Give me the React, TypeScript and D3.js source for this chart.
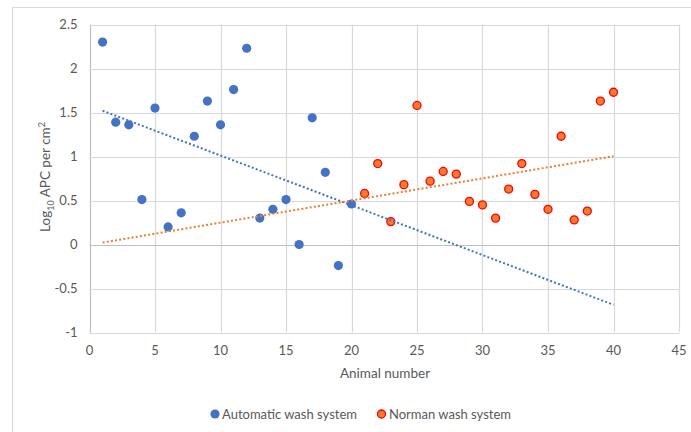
import React from 'react';
import * as d3 from 'd3';

const autoX = [1, 2, 3, 4, 5, 6, 7, 8, 9, 10, 11, 12, 13, 14, 15, 16, 17, 18, 19, 20];
const autoY = [2.3, 1.39, 1.36, 0.51, 1.55, 0.2, 0.36, 1.23, 1.63, 1.36, 1.76, 2.23, 0.3, 0.4, 0.51, 0.0, 1.44, 0.82, -0.24, 0.46];
const normanX = [21, 22, 23, 24, 25, 26, 27, 28, 29, 30, 31, 32, 33, 34, 35, 36, 37, 38, 39, 40];
const normanY = [0.58, 0.92, 0.26, 0.68, 1.58, 0.72, 0.83, 0.8, 0.49, 0.45, 0.3, 0.63, 0.92, 0.57, 0.4, 1.23, 0.28, 0.38, 1.63, 1.73];
// linear trendlines (end points, as drawn in the original)
const trendX = [1, 40];
const autoTrendY = [1.52, -0.685];
const normanTrendY = [0.022, 1.003];
const xTicks = [0, 5, 10, 15, 20, 25, 30, 35, 40, 45];
const yTicks = [-1, -0.5, 0, 0.5, 1, 1.5, 2, 2.5];

const BLUE = '#4472C4';
const ORANGE = '#ED7D31';
const FONT = 'Lato, "Open Sans", sans-serif';

export default function App() {
  const width = 691, height = 432;
  const margin = { left: 89.5, right: 12, top: 24.5, bottom: 99.5 };
  const x = d3.scaleLinear().domain([0, 45]).range([margin.left, width - margin.right]);
  const y = d3.scaleLinear().domain([-1, 2.5]).range([height - margin.bottom, margin.top]);

  const line = d3.line<[number, number]>().x(d => x(d[0])).y(d => y(d[1]));
  const autoTrend = trendX.map((v, i) => [v, autoTrendY[i]] as [number, number]);
  const normanTrend = trendX.map((v, i) => [v, normanTrendY[i]] as [number, number]);

  return (
    <svg width={width} height={height} style={{ position: 'absolute', left: 0, top: 0, fontFamily: FONT }}>
      <rect x={0} y={0} width={width} height={height} fill="#fff" />
      <rect x={12.5} y={7.5} width={800} height={600} fill="none" stroke="#d9d9d9" />

      {/* grid */}
      {xTicks.map(t => (
        <line key={'gx' + t} x1={Math.round(x(t)) + 0.5} x2={Math.round(x(t)) + 0.5} y1={y(2.5)} y2={y(-1)}
          stroke={t === 0 ? '#bfbfbf' : '#d9d9d9'} strokeWidth={1.2} />
      ))}
      {yTicks.map(t => (
        <line key={'gy' + t} x1={x(0)} x2={x(45)} y1={Math.round(y(t)) + 0.5} y2={Math.round(y(t)) + 0.5}
          stroke={t === 0 ? '#bfbfbf' : '#d9d9d9'} strokeWidth={1.2} />
      ))}

      {/* tick labels */}
      {yTicks.map(t => (
        <text key={'ly' + t} x={x(0) - 12} y={y(t)} dy="0.35em" textAnchor="end" fontSize={13} fill="#595959">{t}</text>
      ))}
      {xTicks.map(t => (
        <text key={'lx' + t} x={x(t)} y={y(-1) + 18} dy="0.35em" textAnchor="middle" fontSize={13} fill="#595959">{t}</text>
      ))}

      {/* axis titles */}
      <text x={385} y={373} dy="0.35em" textAnchor="middle" fontSize={13.5} fill="#595959">Animal number</text>
      <text transform="translate(45,177) rotate(-90)" dy="0.35em" textAnchor="middle" fontSize={13.5} fill="#595959">
        Log<tspan fontSize={9} dy="4">10</tspan><tspan dy="-4"> APC per cm</tspan><tspan fontSize={9} dy="-5">2</tspan>
      </text>

      {/* points */}
      {autoX.map((v, i) => (
        <circle key={'a' + i} cx={x(v)} cy={y(autoY[i])} r={4.6} fill={BLUE} />
      ))}
      {normanX.map((v, i) => (
        <circle key={'n' + i} cx={x(v)} cy={y(normanY[i])} r={4} fill={ORANGE} stroke="#FF0000" strokeWidth={1.3} />
      ))}

      {/* trendlines */}
      <path d={line(autoTrend)!} fill="none" stroke={BLUE} strokeWidth={2} strokeDasharray="2 2.2" />
      <path d={line(normanTrend)!} fill="none" stroke={ORANGE} strokeWidth={2} strokeDasharray="2 2.2" />

      {/* legend */}
      <circle cx={215} cy={414} r={4.6} fill={BLUE} />
      <text x={222} y={414} dy="0.35em" fontSize={13} fill="#595959">Automatic wash system</text>
      <circle cx={381.5} cy={414} r={4} fill={ORANGE} stroke="#FF0000" strokeWidth={1.3} />
      <text x={389} y={414} dy="0.35em" fontSize={13} fill="#595959">Norman wash system</text>
    </svg>
  );
}
